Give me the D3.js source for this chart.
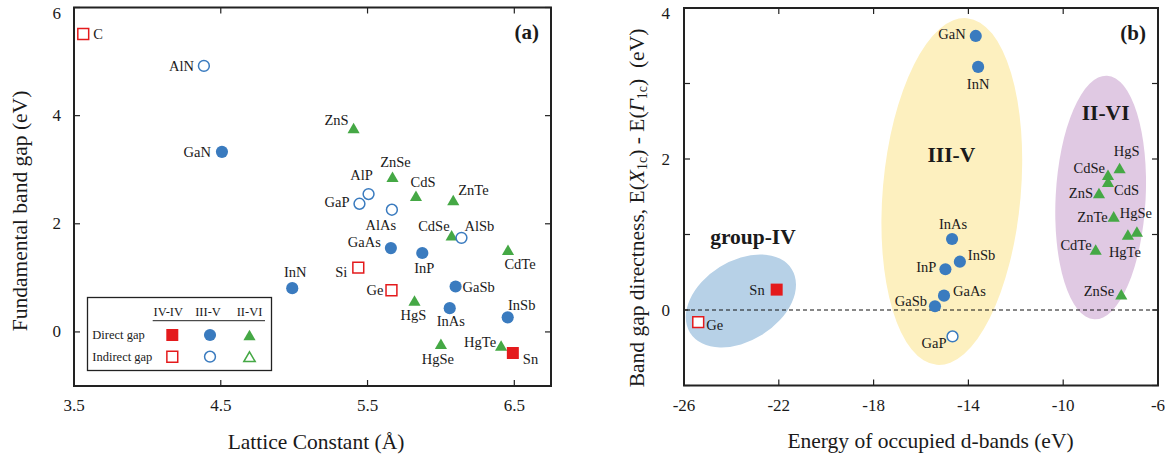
<!DOCTYPE html>
<html>
<head>
<meta charset="utf-8">
<script src="https://cdn.jsdelivr.net/npm/d3@7"></script>
<style>
  body { margin: 0; background: #fff; }
  svg { display: block; }
  text { font-family: "Liberation Serif", "Times New Roman", serif; fill: #1a1a1a; }
</style>
</head>
<body>
<svg id="chart" width="1165" height="456"></svg>
<script>
// ---------- Panel (a): band gap vs lattice constant ----------
const compoundsA = ["C", "AlN", "GaN", "ZnS", "ZnSe", "AlP", "GaP", "AlAs", "CdS", "ZnTe",
  "CdSe", "AlSb", "GaAs", "InP", "CdTe", "InN", "Si", "Ge", "GaSb", "HgS",
  "InAs", "InSb", "HgSe", "HgTe", "Sn"];
const latticeConstant = [3.563, 4.385, 4.508, 5.405, 5.67, 5.507, 5.445, 5.666, 5.83, 6.084,
  6.073, 6.14, 5.659, 5.873, 6.457, 4.987, 5.437, 5.663, 6.10, 5.82,
  6.06, 6.455, 6.0, 6.41, 6.49];
const bandGap = [5.51, 4.92, 3.33, 3.77, 2.87, 2.55, 2.37, 2.26, 2.52, 2.44,
  1.79, 1.74, 1.55, 1.46, 1.52, 0.81, 1.19, 0.77, 0.84, 0.58,
  0.44, 0.27, -0.22, -0.25, -0.39];
const familyA = ["IV-IV", "III-V", "III-V", "II-VI", "II-VI", "III-V", "III-V", "III-V", "II-VI", "II-VI",
  "II-VI", "III-V", "III-V", "III-V", "II-VI", "III-V", "IV-IV", "IV-IV", "III-V", "II-VI",
  "III-V", "III-V", "II-VI", "II-VI", "IV-IV"];
const gapTypeA = ["indirect", "indirect", "direct", "direct", "direct", "indirect", "indirect", "indirect", "direct", "direct",
  "direct", "indirect", "direct", "direct", "direct", "direct", "indirect", "indirect", "direct", "direct",
  "direct", "direct", "direct", "direct", "direct"];

// ---------- Panel (b): band gap directness vs d-band energy ----------
const compoundsB = ["GaN", "InN", "HgS", "CdSe", "CdS", "ZnS", "ZnTe", "HgSe", "HgTe", "CdTe",
  "ZnSe", "InAs", "InSb", "InP", "GaAs", "GaSb", "GaP", "Sn", "Ge"];
const dBandEnergy = [-13.69, -13.59, -7.62, -8.11, -8.11, -8.49, -7.87, -6.89, -7.27, -8.63,
  -7.55, -14.69, -14.36, -14.97, -15.03, -15.41, -14.67, -22.09, -25.40];
const directness = [3.63, 3.22, 1.88, 1.79, 1.70, 1.55, 1.24, 1.04, 1.00, 0.80,
  0.21, 0.94, 0.64, 0.54, 0.19, 0.05, -0.35, 0.27, -0.16];
const familyB = ["III-V", "III-V", "II-VI", "II-VI", "II-VI", "II-VI", "II-VI", "II-VI", "II-VI", "II-VI",
  "II-VI", "III-V", "III-V", "III-V", "III-V", "III-V", "III-V", "IV-IV", "IV-IV"];
const gapTypeB = ["direct", "direct", "direct", "direct", "direct", "direct", "direct", "direct", "direct", "direct",
  "direct", "direct", "direct", "direct", "direct", "direct", "indirect", "direct", "indirect"];

// Family groupings drawn as shaded regions in panel (b)
const regionNames = ["group-IV", "III-V", "II-VI"];
const regionCenterE = [-23.6, -14.70, -8.42];
const regionCenterD = [0.12, 1.57, 1.49];

// Axis ticks
const ticksAx = [3.5, 4.5, 5.5, 6.5];
const ticksAy = [0, 2, 4, 6];
const ticksBx = [-26, -22, -18, -14, -10, -6];
const ticksBy = [-1, 0, 1, 2, 3, 4];
const labelsBy = [0, 2, 4];

// Legend
const legendFamilies = ["IV-IV", "III-V", "II-VI"];
const legendGapTypes = ["direct", "indirect"];
const legendGapText = ["Direct gap", "Indirect gap"];

// ---------- styles & layout ----------
const famColor = { "IV-IV": "#e41a1c", "III-V": "#3a7bbf", "II-VI": "#45a845" };
const famSymbol = { "IV-IV": d3.symbolSquare, "III-V": d3.symbolCircle, "II-VI": d3.symbolTriangle };
const symSize = {
  "IV-IV": { direct: 144, indirect: 118 },
  "III-V": { direct: 116, indirect: 92 },
  "II-VI": { direct: 64, indirect: 56 }
};
const regionStyle = [
  { rx: 60, ry: 40, rot: -32, fill: "#b7d1e7" },
  { rx: 69, ry: 174, rot: 5, fill: "#fdf0bf" },
  { rx: 45, ry: 122, rot: 3, fill: "#e0c9e3" }
];
const regionLabelAt = [[-23.09, 0.97], [-14.72, 2.05], [-8.21, 2.61]];

const labelPosA = {
  C: [10, 0, "start"], AlN: [-10, 0, "end"], GaN: [-11, 0, "end"], ZnS: [-5, -8, "end"],
  ZnSe: [3, -15, "middle"], AlP: [-7, -19, "middle"], GaP: [-10, -2, "end"], AlAs: [-11, 15, "middle"],
  CdS: [7, -14, "middle"], ZnTe: [5, -10, "start"], CdSe: [-2, -9, "end"], AlSb: [3, -12, "start"],
  GaAs: [-10, -6, "end"], InP: [2, 15, "middle"], CdTe: [12, 14, "middle"], InN: [3, -16, "middle"],
  Si: [-11, 4, "end"], Ge: [-8, 0, "end"], GaSb: [7, 0, "start"], HgS: [-1, 14, "middle"],
  InAs: [1, 13, "middle"], InSb: [14, -12, "middle"], HgSe: [-3, 15, "middle"], HgTe: [-5, -3, "end"],
  Sn: [10, 6, "start"]
};
const labelPosB = {
  GaN: [-10, -2, "end"], InN: [0, 17, "middle"], HgS: [7, -17, "middle"], CdSe: [-3, -7, "end"],
  CdS: [6, 8, "start"], ZnS: [-6, 0, "end"], ZnTe: [-6, 1, "end"], HgSe: [-1, -18, "middle"],
  HgTe: [-3, 17, "middle"], CdTe: [-4, -5, "end"], ZnSe: [-7, -3, "end"], InAs: [1, -15, "middle"],
  InSb: [8, -7, "start"], InP: [-9, -2, "end"], GaAs: [9, -5, "start"], GaSb: [-8, -5, "end"],
  GaP: [-6, 7, "end"], Sn: [-12, 0, "end"], Ge: [8, 3, "start"]
};

const svg = d3.select("#chart");

// draws one marker glyph; triangles are nudged so their box is centred on the point
function marker(g, fam, type, x, y) {
  const sym = d3.symbol().type(famSymbol[fam]).size(symSize[fam][type]);
  const off = fam === "II-VI" ? Math.sqrt(symSize[fam][type] / (3 * Math.sqrt(3))) / 2 : 0;
  g.append("path")
    .attr("d", sym())
    .attr("transform", `translate(${x},${y + off})`)
    .attr("fill", type === "direct" ? famColor[fam] : "#fff")
    .attr("stroke", famColor[fam])
    .attr("stroke-width", type === "direct" ? 0 : 1.5);
}

function frame(g, x, y, xt, yt) {
  const [x0, x1] = x.range(), [y0, y1] = y.range();
  const tick = 6;
  const t = g.append("g").attr("stroke", "#222").attr("stroke-width", 1.2);
  xt.forEach(v => {
    const px = x(v);
    t.append("line").attr("x1", px).attr("x2", px).attr("y1", y0).attr("y2", y0 - tick);
    t.append("line").attr("x1", px).attr("x2", px).attr("y1", y1).attr("y2", y1 + tick);
  });
  yt.forEach(v => {
    const py = y(v);
    t.append("line").attr("x1", x0).attr("x2", x0 + tick).attr("y1", py).attr("y2", py);
    t.append("line").attr("x1", x1).attr("x2", x1 - tick).attr("y1", py).attr("y2", py);
  });
  g.append("rect").attr("x", x0).attr("y", y1).attr("width", x1 - x0).attr("height", y0 - y1)
    .attr("fill", "none").attr("stroke", "#222").attr("stroke-width", 2);
}

// tick labels at the very top edge sit a little lower so they stay on the page
const labelY = py => Math.max(py, 13);

// ================= Panel (a) =================
const xA = d3.scaleLinear().domain([3.5, 6.75]).range([74, 551]);
const yA = d3.scaleLinear().domain([-1, 6]).range([386, 7.5]);
const gA = svg.append("g");

compoundsA.forEach((name, i) => {
  const px = xA(latticeConstant[i]), py = yA(bandGap[i]);
  marker(gA, familyA[i], gapTypeA[i], px, py);
  const p = labelPosA[name];
  gA.append("text").attr("x", px + p[0]).attr("y", py + p[1])
    .attr("text-anchor", p[2]).attr("dominant-baseline", "central")
    .attr("font-size", 14.5).text(name);
});

frame(gA, xA, yA, ticksAx, ticksAy);

ticksAx.forEach(v => gA.append("text").attr("x", xA(v)).attr("y", 405)
  .attr("text-anchor", "middle").attr("dominant-baseline", "central")
  .attr("font-size", 17).text(d3.format(".1f")(v)));
ticksAy.forEach(v => gA.append("text").attr("x", 61).attr("y", labelY(yA(v)))
  .attr("text-anchor", "end").attr("dominant-baseline", "central")
  .attr("font-size", 17).text(v));

gA.append("text").attr("x", 316).attr("y", 442).attr("text-anchor", "middle")
  .attr("dominant-baseline", "central").attr("font-size", 21.5).text("Lattice Constant (Å)");
gA.append("text").attr("transform", "translate(20,211) rotate(-90)").attr("text-anchor", "middle")
  .attr("dominant-baseline", "central").attr("font-size", 21.5).text("Fundamental band gap (eV)");
gA.append("text").attr("x", 539).attr("y", 32).attr("text-anchor", "end")
  .attr("dominant-baseline", "central").attr("font-size", 21).attr("font-weight", "bold").text("(a)");

// legend
const lg = gA.append("g");
lg.append("rect").attr("x", 87.5).attr("y", 297.5).attr("width", 184).attr("height", 73)
  .attr("fill", "#fff").attr("stroke", "#222").attr("stroke-width", 1.3);
const colX = [172.3, 210, 249.5];
const rowY = [335, 356.7];
legendFamilies.forEach((f, j) => {
  lg.append("text").attr("x", colX[j] - 4 + j * 2).attr("y", 311.5).attr("text-anchor", "middle")
    .attr("dominant-baseline", "central").attr("font-size", 12.5).text(f);
});
lg.append("line").attr("x1", 152.7).attr("x2", 265).attr("y1", 320.7).attr("y2", 320.7)
  .attr("stroke", "#222").attr("stroke-width", 1);
legendGapTypes.forEach((t, r) => {
  lg.append("text").attr("x", 92.3).attr("y", rowY[r]).attr("dominant-baseline", "central")
    .attr("font-size", 12.5).text(legendGapText[r]);
  legendFamilies.forEach((f, j) => marker(lg, f, t, colX[j], rowY[r]));
});

// ================= Panel (b) =================
const xB = d3.scaleLinear().domain([-26, -6]).range([684, 1158]);
const yB = d3.scaleLinear().domain([-1, 4]).range([385.5, 8]);
const gB = svg.append("g");

regionNames.forEach((name, k) => {
  const s = regionStyle[k];
  gB.append("ellipse")
    .attr("transform", `translate(${xB(regionCenterE[k])},${yB(regionCenterD[k])}) rotate(${s.rot})`)
    .attr("rx", s.rx).attr("ry", s.ry).attr("fill", s.fill);
});

gB.append("line").attr("x1", xB(-26)).attr("x2", xB(-6)).attr("y1", yB(0)).attr("y2", yB(0))
  .attr("stroke", "#111").attr("stroke-width", 1).attr("stroke-dasharray", "4,3");

regionNames.forEach((name, k) => {
  gB.append("text").attr("x", xB(regionLabelAt[k][0])).attr("y", yB(regionLabelAt[k][1]))
    .attr("text-anchor", "middle").attr("dominant-baseline", "central")
    .attr("font-size", 21.5).attr("font-weight", "bold").text(name);
});

compoundsB.forEach((name, i) => {
  const px = xB(dBandEnergy[i]), py = yB(directness[i]);
  marker(gB, familyB[i], gapTypeB[i], px, py);
  const p = labelPosB[name];
  gB.append("text").attr("x", px + p[0]).attr("y", py + p[1])
    .attr("text-anchor", p[2]).attr("dominant-baseline", "central")
    .attr("font-size", 14.5).text(name);
});

frame(gB, xB, yB, ticksBx, ticksBy);

ticksBx.forEach(v => gB.append("text").attr("x", xB(v)).attr("y", 405)
  .attr("text-anchor", "middle").attr("dominant-baseline", "central")
  .attr("font-size", 17).text(v));
labelsBy.forEach(v => gB.append("text").attr("x", 670).attr("y", labelY(yB(v)))
  .attr("text-anchor", "end").attr("dominant-baseline", "central")
  .attr("font-size", 17).text(v));

gB.append("text").attr("x", 930.5).attr("y", 441).attr("text-anchor", "middle")
  .attr("dominant-baseline", "central").attr("font-size", 21.5).text("Energy of occupied d-bands (eV)");

const yt = gB.append("text").attr("transform", "translate(637,208) rotate(-90)")
  .attr("text-anchor", "middle").attr("dominant-baseline", "central").attr("font-size", 21.5);
yt.append("tspan").text("Band gap directness, E(");
yt.append("tspan").attr("font-style", "italic").text("X");
yt.append("tspan").attr("font-size", 14).attr("dy", 5).text("1c");
yt.append("tspan").attr("dy", -5).text(") - E(");
yt.append("tspan").attr("font-style", "italic").text("Γ");
yt.append("tspan").attr("font-size", 14).attr("dy", 5).text("1c");
yt.append("tspan").attr("dy", -5).text(")\u00a0\u00a0(eV)");

gB.append("text").attr("x", 1146).attr("y", 33).attr("text-anchor", "end")
  .attr("dominant-baseline", "central").attr("font-size", 21).attr("font-weight", "bold").text("(b)");
</script>
</body>
</html>
